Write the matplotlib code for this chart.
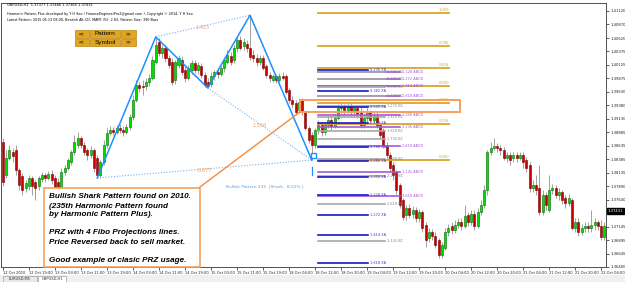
import numpy as np
import matplotlib
matplotlib.use('Agg')
import matplotlib.pyplot as plt
from matplotlib.patches import Rectangle

W, H = 625, 282

# GBPUSD,H1 bars in pips (price * 1e4), bar 0 = 12 Oct 2010 11:00
opens = [13870, 13810, 13841, 13852, 13856, 13819, 13808, 13786, 13789, 13804,
         13797, 13789, 13802, 13810, 13804, 13812, 13804, 13797, 13786, 13815,
         13823, 13834, 13852, 13865, 13878, 13865, 13856, 13847, 13856, 13841,
         13810, 13834, 13865, 13887, 13893, 13889, 13896, 13893, 13889, 13898,
         13917, 13948, 13975, 13974, 13974, 13981, 13988, 14018, 14055, 14034,
         14044, 14025, 14018, 13985, 14012, 14021, 14003, 13988, 14003, 14016,
         14003, 14010, 13994, 13981, 13977, 13992, 13999, 13996, 14007, 14018,
         14029, 14021, 14044, 14058, 14047, 14051, 14044, 14031, 14025, 14018,
         14025, 14010, 13994, 13985, 13992, 13985, 13992, 13992, 13966, 13948,
         13942, 13929, 13948, 13926, 13896, 13883, 13865, 13893, 13902, 13889,
         13902, 13911, 13900, 13915, 13933, 13937, 13929, 13937, 13926, 13933,
         13926, 13902, 13915, 13926, 13911, 13918, 13902, 13893, 13865, 13847,
         13828, 13815, 13791, 13764, 13736, 13749, 13738, 13745, 13730, 13742,
         13718, 13694, 13705, 13697, 13690, 13662, 13675, 13705, 13716, 13708,
         13718, 13723, 13716, 13736, 13723, 13738, 13716, 13742, 13754, 13782,
         13852, 13859, 13863, 13859, 13856, 13841, 13847, 13841, 13847, 13841,
         13847, 13837, 13828, 13786, 13791, 13786, 13742, 13773, 13745, 13782,
         13786, 13773, 13778, 13767, 13758, 13764, 13712, 13723, 13705, 13712,
         13716, 13712, 13718, 13723, 13716, 13695]
highs = [13878, 13856, 13865, 13859, 13865, 13823, 13813, 13800, 13810, 13808,
         13800, 13808, 13815, 13813, 13817, 13819, 13810, 13804, 13823, 13828,
         13841, 13856, 13883, 13889, 13882, 13870, 13859, 13863, 13859, 13847,
         13837, 13874, 13896, 13900, 13898, 13902, 13904, 13900, 13904, 13922,
         13957, 13985, 13981, 13985, 13988, 13996, 14029, 14064, 14062, 14049,
         14049, 14031, 14025, 14021, 14031, 14029, 14010, 14012, 14021, 14021,
         14018, 14016, 13999, 13988, 13999, 14003, 14007, 14012, 14025, 14040,
         14036, 14049, 14066, 14066, 14062, 14058, 14104, 14040, 14032, 14031,
         14031, 14014, 13999, 13996, 13996, 13997, 13999, 13996, 13970, 13955,
         13948, 13951, 13951, 13929, 13900, 13889, 13896, 13911, 13907, 13907,
         13918, 13917, 13922, 13940, 13944, 13940, 13944, 13942, 13939, 13937,
         13937, 13920, 13933, 13929, 13926, 13926, 13907, 13896, 13870, 13852,
         13834, 13819, 13795, 13767, 13754, 13756, 13753, 13751, 13747, 13745,
         13723, 13712, 13710, 13705, 13694, 13686, 13712, 13719, 13723, 13727,
         13730, 13730, 13754, 13742, 13745, 13745, 13749, 13764, 13791, 13856,
         13870, 13878, 13869, 13865, 13861, 13852, 13852, 13852, 13852, 13852,
         13852, 13843, 13834, 13800, 13810, 13828, 13782, 13778, 13810, 13793,
         13791, 13786, 13782, 13773, 13775, 13767, 13730, 13730, 13719, 13723,
         13723, 13745, 13730, 13727, 13727, 13723]
lows = [13789, 13804, 13837, 13834, 13810, 13782, 13773, 13778, 13782, 13773,
        13764, 13782, 13797, 13797, 13800, 13793, 13778, 13767, 13782, 13810,
        13819, 13828, 13847, 13859, 13859, 13847, 13837, 13841, 13815, 13804,
        13804, 13828, 13859, 13883, 13883, 13885, 13887, 13882, 13885, 13893,
        13911, 13944, 13963, 13957, 13966, 13974, 13985, 14014, 14029, 14025,
        14018, 14007, 13975, 13977, 14007, 13994, 13981, 13985, 13996, 13997,
        13996, 13988, 13972, 13970, 13972, 13985, 13988, 13992, 13999, 14014,
        14012, 14016, 14036, 14040, 14040, 14036, 14021, 14018, 14010, 14012,
        14003, 13988, 13981, 13981, 13979, 13981, 13985, 13959, 13942, 13933,
        13920, 13924, 13920, 13893, 13869, 13837, 13859, 13885, 13882, 13883,
        13896, 13893, 13896, 13911, 13924, 13920, 13924, 13918, 13918, 13915,
        13896, 13896, 13907, 13904, 13904, 13896, 13878, 13859, 13841, 13815,
        13800, 13775, 13749, 13727, 13727, 13730, 13730, 13723, 13723, 13705,
        13677, 13686, 13690, 13675, 13657, 13657, 13672, 13697, 13701, 13703,
        13712, 13708, 13712, 13716, 13718, 13708, 13712, 13736, 13749, 13773,
        13847, 13856, 13852, 13847, 13837, 13834, 13828, 13834, 13834, 13837,
        13823, 13815, 13778, 13778, 13773, 13736, 13736, 13745, 13742, 13775,
        13767, 13764, 13756, 13749, 13753, 13708, 13705, 13697, 13699, 13705,
        13705, 13705, 13708, 13708, 13690, 13690]
closes = [13797, 13841, 13856, 13845, 13819, 13791, 13782, 13795, 13804, 13789,
          13786, 13804, 13810, 13804, 13812, 13800, 13786, 13782, 13815, 13823,
          13837, 13852, 13870, 13878, 13865, 13852, 13847, 13856, 13823, 13810,
          13834, 13865, 13887, 13893, 13889, 13896, 13893, 13889, 13898, 13917,
          13948, 13975, 13970, 13972, 13981, 13988, 14021, 14049, 14034, 14044,
          14025, 14012, 13981, 14018, 14025, 13999, 13988, 14007, 14016, 14003,
          14012, 13994, 13975, 13974, 13992, 13999, 13996, 14007, 14021, 14031,
          14018, 14044, 14058, 14044, 14055, 14044, 14027, 14025, 14018, 14025,
          14007, 13994, 13988, 13992, 13985, 13992, 13988, 13963, 13948, 13940,
          13926, 13944, 13926, 13896, 13874, 13865, 13893, 13902, 13889, 13902,
          13911, 13900, 13915, 13933, 13937, 13929, 13937, 13926, 13933, 13922,
          13902, 13915, 13926, 13911, 13918, 13902, 13883, 13865, 13847, 13823,
          13810, 13782, 13754, 13732, 13749, 13736, 13745, 13730, 13742, 13712,
          13690, 13705, 13697, 13681, 13662, 13681, 13705, 13712, 13708, 13718,
          13723, 13716, 13734, 13723, 13738, 13716, 13742, 13754, 13782, 13852,
          13859, 13863, 13859, 13856, 13841, 13847, 13837, 13847, 13841, 13847,
          13834, 13823, 13786, 13791, 13782, 13742, 13773, 13754, 13782, 13786,
          13773, 13778, 13764, 13758, 13767, 13712, 13723, 13705, 13712, 13716,
          13712, 13718, 13723, 13716, 13695, 13716]

time_labels = ['12 Oct 2010', '12 Oct 19:00', '13 Oct 03:00', '13 Oct 11:00', '13 Oct 19:00',
               '14 Oct 03:00', '14 Oct 11:00', '14 Oct 19:00', '15 Oct 03:00', '15 Oct 11:00',
               '15 Oct 19:00', '18 Oct 04:00', '18 Oct 12:00', '18 Oct 20:00', '19 Oct 04:00',
               '19 Oct 12:00', '19 Oct 20:00', '20 Oct 04:00', '20 Oct 12:00', '20 Oct 20:00',
               '21 Oct 04:00', '21 Oct 12:00', '21 Oct 20:00', '22 Oct 04:00']
price_ticks = [1.41120, 1.40870, 1.40620, 1.40375, 1.40125, 1.39875, 1.39630, 1.39380,
               1.39130, 1.38885, 1.38635, 1.38385, 1.38135, 1.37890, 1.37640, 1.37145,
               1.36895, 1.36645, 1.36400]
last_price = 1.37431

# pattern pivots (bar index), ratios on the dotted legs
pivot_bars = [29, 47, 63, 76, 95]
leg_ratios = ['1.423', '1.556', '0.877']

# fibo retracement of C-D
fib_labels = ['1.000', '0.786', '0.618', '0.500', '0.382', '0.236', '0.000']
fib_prices = [1.4108, 1.4047, 1.4007, 1.3974, 1.3942, 1.3904, 1.3837]

# projection levels
xa_labels = ['0.236 XA', '0.382 XA', '0.500 XA', '0.618 XA', '0.786 XA', '0.886 XA',
             '1.000 XA', '1.128 XA', '1.272 XA', '1.414 XA', '1.618 XA']
xa_prices = [1.4003, 1.3965, 1.3935, 1.3905, 1.3861, 1.3835, 1.3806, 1.3773, 1.3736, 1.3699, 1.3647]
bc_labels = ['0.786 BC', '0.886 BC', '1.000 BC', '1.128 BC', '1.272 BC', '1.414 BC',
             '1.618 BC', '1.732 BC', '2.000 BC', '2.236 BC', '2.618 BC', '3.141 BC']
bc_prices = [1.4000, 1.3987, 1.3972, 1.3955, 1.3936, 1.3917, 1.3890, 1.3875, 1.3839, 1.3808, 1.3757, 1.3688]
abcd_labels = ['1.128 ABCD', '1.272 ABCD', '1.414 ABCD', '1.618 ABCD', '2.000 ABCD',
               '2.236 ABCD', '2.618 ABCD', '3.141 ABCD', '3.618 ABCD']
abcd_prices = [1.4000, 1.3987, 1.3974, 1.3955, 1.3920, 1.3898, 1.3863, 1.3815, 1.3771]

prz_top, prz_bottom = 1.3948, 1.3926

note_lines = ['Bullish Shark Pattern found on 2010.',
              '(235th Harmonic Pattern found',
              'by Harmonic Pattern Plus).',
              'PRZ with 4 Fibo Projections lines.',
              'Price Reversed back to sell market.',
              'Good example of clasic PRZ usage.']


def fx(x):
    return x / W


def fy(y):
    return 1 - y / H


fig = plt.figure(figsize=(W / 100, H / 100), dpi=100)
fig.patch.set_facecolor('white')
ax = fig.add_axes([fx(1), fy(267), (606 - 1) / W, (267 - 3) / H])
ax.set_xlim(-0.6, 185.5)
ax.set_ylim(1.36402, 1.41265)

o = np.array(opens) / 1e4
h = np.array(highs) / 1e4
l = np.array(lows) / 1e4
c = np.array(closes) / 1e4
idx = np.arange(len(o))
up = c >= o
body = np.maximum(np.abs(c - o), 0.00003)
bottom = np.minimum(o, c)

# candles
ax.vlines(idx, l, h, color='#a0a0a0', lw=0.7, zorder=2)
ax.bar(idx[up], body[up], bottom=bottom[up], width=0.62, color='#00e000',
       edgecolor='#006a00', lw=0.4, zorder=3)
ax.bar(idx[~up], body[~up], bottom=bottom[~up], width=0.62, color='#c80000',
       edgecolor='#7a0000', lw=0.4, zorder=3)

# harmonic pattern X-A-B-C-D
px_ = pivot_bars
py_ = [l[px_[0]], h[px_[1]], l[px_[2]], h[px_[3]], l[px_[4]]]
ax.plot(px_, py_, color='#1e8fff', lw=1.1, zorder=5)
dot = dict(color='#78b0f0', lw=0.8, linestyle=(0, (1, 1.5)), zorder=4)
legs = [(1, 3), (2, 4), (0, 4)]
for (i, j), r in zip(legs, leg_ratios):
    ax.plot([px_[i], px_[j]], [py_[i], py_[j]], **dot)
    ax.text((px_[i] + px_[j]) / 2, (py_[i] + py_[j]) / 2 - 0.0003, r,
            fontsize=3.6, color='#eea060', ha='center', va='center', zorder=6)

# D marker
ax.plot(px_[4] + 0.3, py_[4] + 0.0009, marker='s', ms=3.6, mfc='white',
        mec='#1e8fff', mew=1.0, zorder=7)
ax.plot([px_[4], px_[4]], [py_[4] - 0.0013, py_[4] - 0.0027], color='#1e8fff',
        lw=0.9, zorder=7)

# fibo retracement
for lab, p in zip(fib_labels, fib_prices):
    ax.plot([97, 137.2], [p, p], color='#dba52a', lw=1.3, zorder=4)
    ax.text(137.2, p + 0.00012, lab, fontsize=2.6, color='#d0a040',
            ha='right', va='bottom', zorder=6)

# projections
for lab, p in zip(abcd_labels, abcd_prices):
    ax.plot([97, 122], [p, p], color='#a45ad8', lw=1.2, zorder=4)
    ax.text(122.6, p, lab, fontsize=2.5, color='#a050e0', va='center', zorder=6)
for lab, p in zip(bc_labels, bc_prices):
    ax.plot([97, 117.5], [p, p], color='#a8a8a8', lw=1.2, zorder=4)
    ax.text(118, p, lab, fontsize=2.5, color='#808080', va='center', zorder=6)
for lab, p in zip(xa_labels, xa_prices):
    ax.plot([97, 112.3], [p, p], color='#1818c8', lw=1.2, zorder=4)
    ax.text(112.8, p, lab, fontsize=2.5, color='#3a3ad8', va='center', zorder=6)

# PRZ box and pointer
ax.add_patch(Rectangle((91.4, prz_bottom), 140.6 - 91.4, prz_top - prz_bottom,
                       fill=False, ec='#f5a05a', lw=1.4, zorder=6))
ax.plot([60.3, 91.4], [1.3786, prz_bottom], color='#f58a3a', lw=1.0, zorder=6)

ax.text(68.5, 1.3789, 'Bullish Pattern 235  [Shark,  8.02% ]', fontsize=3.1,
        color='#5d9de6', va='center', zorder=6)

# axes
ax.yaxis.tick_right()
ax.set_yticks(price_ticks)
ax.set_yticklabels(['%.5f' % t for t in price_ticks])
ax.set_xticks(np.arange(len(time_labels)) * 8)
ax.set_xticklabels(time_labels, ha='left')
ax.tick_params(axis='y', length=2, width=0.5, labelsize=2.7, pad=1.5, colors='#202020')
ax.tick_params(axis='x', length=2, width=0.5, labelsize=2.6, pad=0.8, colors='#202020')
for sp in ax.spines.values():
    sp.set_color('#505050')
    sp.set_linewidth(0.7)

fig.text(fx(608), fy(211), '%.5f' % last_price, fontsize=2.7, color='white',
         va='center', ha='left',
         bbox=dict(boxstyle='square,pad=0.15', fc='black', ec='black'), zorder=10)

# header texts
fig.text(fx(7), fy(5), 'GBPUSD,H1  1.37377 1.37466 1.37365 1.37431', fontsize=2.6,
         va='center', zorder=10)
fig.text(fx(7), fy(14), 'Harmonic Pattern Plus developed by Y H Seo ( FinanceEngineerPro2@gmail.com ), '
         'Copyright \u00a9 2014, Y H Seo', fontsize=2.45, va='center', zorder=10)
fig.text(fx(7), fy(20), 'Latest Pattern: 2015.05.13 08:00, Bearish Alt-CD, MAPE (%): 2.83, '
         'Pattern Size: 390 Bars', fontsize=2.45, va='center', zorder=10)

# buttons
cells = [(75, 89), (90, 120), (121, 136)]
rows = [((30, 37.5), ('<<', 'Pattern', '>>')), ((38.5, 46), ('<<', 'Symbol', '>>'))]
for (y0, y1), names in rows:
    for (x0, x1), name in zip(cells, names):
        fig.patches.append(Rectangle((fx(x0), fy(y1)), (x1 - x0) / W, (y1 - y0) / H,
                                     transform=fig.transFigure, fc='#e2a522',
                                     ec='#b88410', lw=0.5, zorder=9))
        fig.text(fx((x0 + x1) / 2), fy((y0 + y1) / 2), name, fontsize=4.6 if len(name) > 2 else 3.6,
                 ha='center', va='center', family='Liberation Sans', zorder=10)

# note box
fig.patches.append(Rectangle((fx(43.5), fy(266.5)), (199.5 - 43.5) / W, (266.5 - 188) / H,
                             transform=fig.transFigure, fc='white', ec='#f5a05a',
                             lw=1.2, zorder=9))
for txt, yy in zip(note_lines, [196, 206, 215, 233, 242, 260]):
    fig.text(fx(49), fy(yy), txt, fontsize=5.9, family='Liberation Sans',
             weight='bold', style='italic', va='center', zorder=10)

# symbol tabs at the bottom
fig.patches.append(Rectangle((0, 0), 1, 7.5 / H, transform=fig.transFigure,
                             fc='#f0f0f0', ec='none', zorder=8))
for (x0, x1), name, fc in [((3, 37), 'EURUSD,M5', '#e8e8e8'), ((38, 66), 'GBPUSD,H1', 'white')]:
    fig.patches.append(Rectangle((fx(x0), 0), (x1 - x0) / W, 6.5 / H, transform=fig.transFigure,
                                 fc=fc, ec='#a0a0a0', lw=0.5, zorder=9))
    fig.text(fx((x0 + x1) / 2), fy(279), name, fontsize=2.6, ha='center', va='center',
             color='#303030', zorder=10)

fig.savefig('out.png', dpi=100)
